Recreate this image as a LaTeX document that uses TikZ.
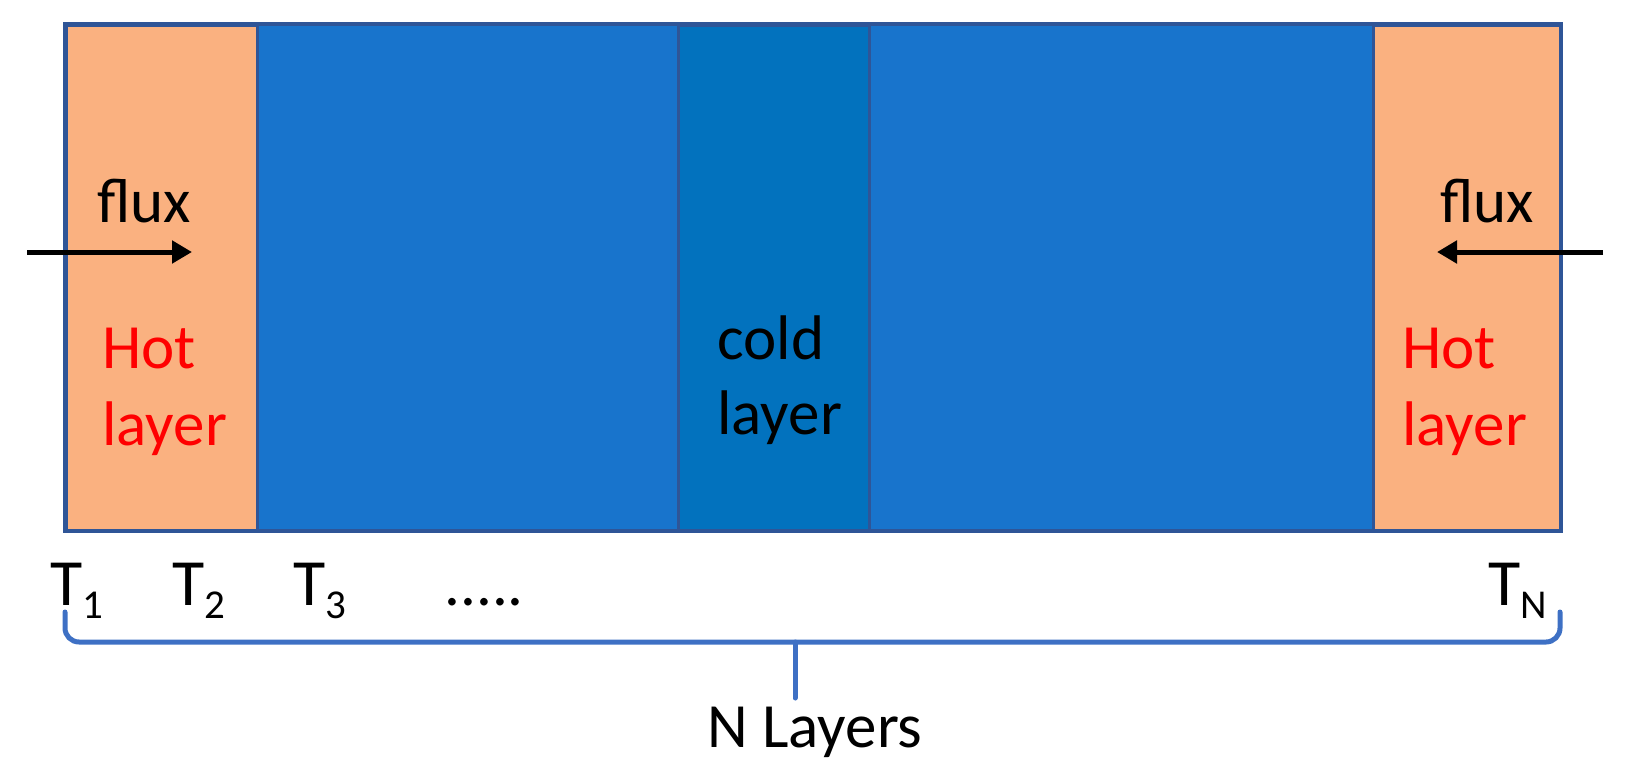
\documentclass[tikz,border=0pt]{standalone}
\usepackage{fontspec}
\setmainfont{Carlito}
\usetikzlibrary{arrows.meta}
\definecolor{hot}{RGB}{250,177,128}
\definecolor{bulkblue}{RGB}{24,116,204}
\definecolor{coldblue}{RGB}{2,114,190}
\definecolor{edgeblue}{RGB}{47,85,151}
\definecolor{braceblue}{RGB}{62,112,196}
\definecolor{hottext}{RGB}{255,0,0}
\tikzset{
  layerbox/.style={rectangle, inner sep=0pt, anchor=north west, minimum height=253pt},
  lbl/.style={inner sep=0pt, anchor=base west, font=\fontsize{31.5}{38}\selectfont},
  tlbl/.style={inner sep=0pt, anchor=base west, font=\fontsize{33}{40}\selectfont},
  fluxarrow/.style={line width=2.5pt, -{Triangle[length=10pt,width=11pt]}},
  bracestyle/.style={draw=braceblue, line width=2.5pt, line cap=round}
}
\newcommand{\tsub}[1]{\raisebox{-6.5pt}{\fontsize{20.5}{24}\selectfont #1}}
\begin{document}
\begin{tikzpicture}[x=0.5pt,y=-0.5pt]
\useasboundingbox (0,0) rectangle (1628,772);
% layers
\node[layerbox, fill=bulkblue, minimum width=747.5pt] (bulk) at (65,24) {};
\node[layerbox, fill=hot, draw=edgeblue, line width=1.5pt, minimum width=95.5pt] (hotL) at (65,24) {};
\node[layerbox, fill=coldblue, draw=edgeblue, line width=1.5pt, minimum width=95.5pt] (cold) at (677,24) {};
\node[layerbox, fill=hot, draw=edgeblue, line width=1.5pt, minimum width=94pt] (hotR) at (1372,24) {};
\draw[edgeblue, line width=2pt] (bulk.north west) rectangle (bulk.south east);
% texts
\node[lbl] (fluxL) at (97,222) {flux};
\node[lbl] (fluxR) at (1440,222) {flux};
\node[lbl, text=hottext] (hotLa) at (102,368) {Hot};
\node[lbl, text=hottext] (hotLb) at (102,445) {layer};
\node[lbl, text=hottext] (hotRa) at (1402,368) {Hot};
\node[lbl, text=hottext] (hotRb) at (1402,445) {layer};
\node[lbl] (colda) at (717,359) {cold};
\node[lbl] (coldb) at (717,434) {layer};
% arrows
\coordinate (aLs) at (27,252);
\coordinate (aLe) at (192,252);
\coordinate (aRs) at (1603,252);
\coordinate (aRe) at (1437,252);
\draw[fluxarrow] (aLs) -- (aLe);
\draw[fluxarrow] (aRs) -- (aRe);
% temperatures
\node[tlbl] (T1) at (50,605) {T\tsub{1}};
\node[tlbl] (T2) at (172,605) {T\tsub{2}};
\node[tlbl] (T3) at (293,605) {T\tsub{3}};
\node[lbl] (dots) at (444,605) {.....};
\node[tlbl] (TN) at (1488,605) {T\tsub{N}};
% brace
\coordinate (bL) at (65,612);
\coordinate (bR) at (1560,612);
\coordinate (bM) at (795,642);
\coordinate (bT) at (795,698);
\draw[bracestyle] (bL) -- (65,628) arc[start angle=180, end angle=90, radius=14] -- (1546,642) arc[start angle=90, end angle=0, radius=14] -- (bR);
\draw[bracestyle] (bM) -- (bT);
\node[lbl] (nlayers) at (707,747) {N Layers};
\end{tikzpicture}
\end{document}
